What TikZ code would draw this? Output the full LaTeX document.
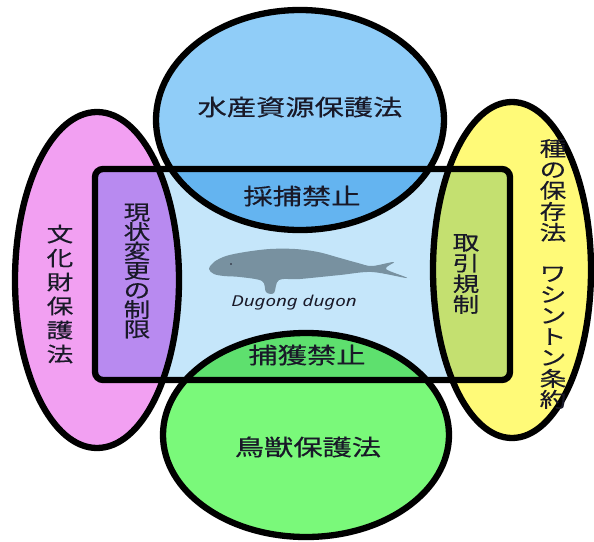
\documentclass[tikz,border=0pt]{standalone}
\usepackage{fontspec}
\newfontfamily\jp[FakeStretch=1.3, FakeBold=0.35]{Noto Sans CJK JP}
\newfontfamily\latn[FakeStretch=1.25]{Noto Sans}

\definecolor{ink}{RGB}{25,25,40}
\definecolor{suisanblue}{RGB}{144,205,248}
\definecolor{saihoblue}{RGB}{100,180,240}
\definecolor{umi}{RGB}{197,230,250}
\definecolor{bunkapink}{RGB}{242,160,242}
\definecolor{genjopurple}{RGB}{184,138,240}
\definecolor{shuyellow}{RGB}{255,250,120}
\definecolor{torihikigreen}{RGB}{196,224,112}
\definecolor{chojugreen}{RGB}{122,249,122}
\definecolor{hokakugreen}{RGB}{94,224,110}
\definecolor{dugonggray}{RGB}{120,145,160}

% the four laws and the frame around the dugong
\newcommand{\Suisan}{(300,120) ellipse [x radius=144, y radius=110]}
\newcommand{\Choju}{(306,435) ellipse [x radius=143, y radius=102]}
\newcommand{\Bunka}{(97,280) ellipse [x radius=82, y radius=168]}
\newcommand{\Shu}{(512,270) ellipse [x radius=79, y radius=168]}
\newcommand{\Waku}{[rounded corners=8pt] (95,169) rectangle (510,380)}

\tikzset{
  lbl/.style={font=\jp\fontsize{22.5}{24}\selectfont, text=ink},
  tate/.style={font=\jp\fontsize{20.5}{#1}\selectfont, text=ink, align=center, inner sep=0pt},
  rim/.style={draw=black, line width=6.3pt}
}

\begin{document}
\begin{tikzpicture}[x=1pt,y=-1pt]
\useasboundingbox (0,0) rectangle (594,541);

\fill[bunkapink] \Bunka;
\fill[shuyellow] \Shu;
\fill[suisanblue] \Suisan;
\fill[chojugreen] \Choju;
\fill[umi] \Waku;

% overlaps with the frame
\begin{scope}
  \clip \Waku;
  \fill[saihoblue] \Suisan;
  \fill[hokakugreen] \Choju;
  \fill[genjopurple] \Bunka;
  \fill[torihikigreen] \Shu;
\end{scope}

\draw[rim] \Bunka;
\draw[rim] \Shu;
\draw[rim] \Suisan;
\draw[rim] \Choju;
\draw[rim] \Waku;

% dugong
\fill[dugonggray] plot[smooth cycle, tension=0.55] coordinates {
  (209,269) (214,262) (226,256) (245,252) (270,249) (295,249) (318,252)
  (340,258) (358,263) (372,266) (394,262) (386,269) (407,278) (372,272)
  (340,275) (300,279) (279,280) (274,293) (266,292) (262,281)
  (240,277) (224,276) (214,274)};
\fill[ink] (231,264) circle (0.9);
\node[font=\latn\itshape\fontsize{15}{16}\selectfont, text=ink] (gakumei) at (294,303) {Dugong dugon};

\node[lbl] (suisan) at (300,107) {水産資源保護法};
\node[lbl] (saiho) at (302,196) {採捕禁止};
\node[lbl] (hokaku) at (307,355) {捕獲禁止};
\node[lbl] (choju) at (308,447) {鳥獣保護法};

\node[tate=24] (bunka) at (60,294) {文\\化\\財\\保\\護\\法};
\node[tate=19.5] (genjo) at (137,271) {現\\状\\変\\更\\の\\制\\限};
\node[tate=20.7] (torihiki) at (466,274) {取\\引\\規\\制};
\node[tate=21] (shu) at (553,274) {種\\の\\保\\存\\法\\[20pt]ワ\\シ\\ン\\ト\\ン\\条\\約};
\end{tikzpicture}
\end{document}
